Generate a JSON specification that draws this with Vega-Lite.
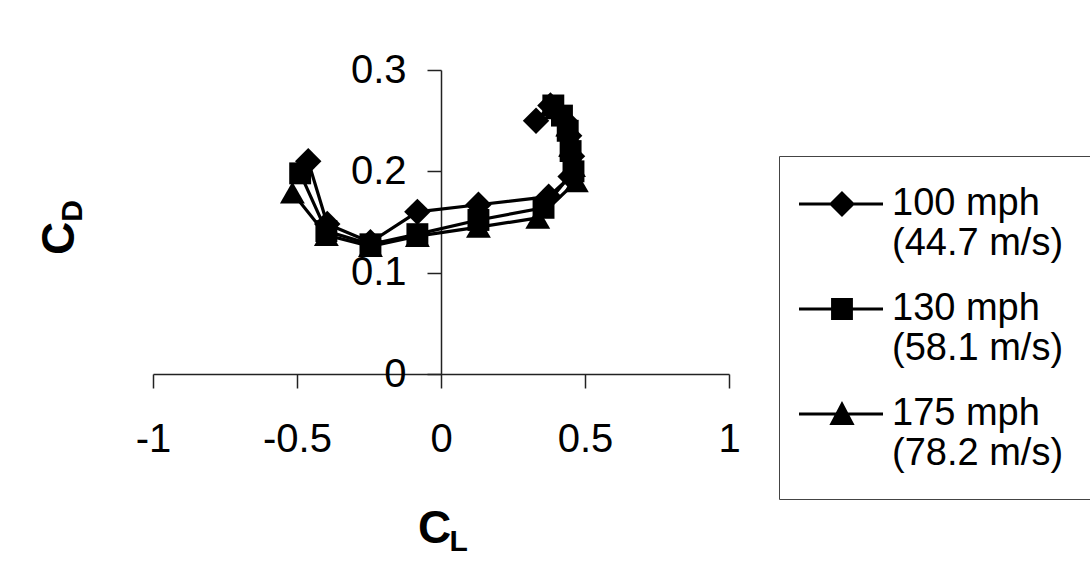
{
  "$schema": "https://vega.github.io/schema/vega-lite/v6.json",
  "width": 576,
  "height": 304,
  "autosize": {"type": "none"},
  "padding": {"left": 153, "top": 70, "right": 361, "bottom": 203},
  "background": "white",
  "config": {
    "view": {"stroke": null},
    "font": "Liberation Sans",
    "axis": {"grid": false}
  },
  "datasets": {
    "polar": [
      {"series": "100 mph (44.7 m/s)", "i": 1, "CL": -0.461, "CD": 0.210},
      {"series": "100 mph (44.7 m/s)", "i": 2, "CL": -0.395, "CD": 0.148},
      {"series": "100 mph (44.7 m/s)", "i": 3, "CL": -0.245, "CD": 0.130},
      {"series": "100 mph (44.7 m/s)", "i": 4, "CL": -0.082, "CD": 0.160},
      {"series": "100 mph (44.7 m/s)", "i": 5, "CL": 0.130, "CD": 0.167},
      {"series": "100 mph (44.7 m/s)", "i": 6, "CL": 0.374, "CD": 0.175},
      {"series": "100 mph (44.7 m/s)", "i": 7, "CL": 0.450, "CD": 0.195},
      {"series": "100 mph (44.7 m/s)", "i": 8, "CL": 0.455, "CD": 0.215},
      {"series": "100 mph (44.7 m/s)", "i": 9, "CL": 0.445, "CD": 0.235},
      {"series": "100 mph (44.7 m/s)", "i": 10, "CL": 0.430, "CD": 0.250},
      {"series": "100 mph (44.7 m/s)", "i": 11, "CL": 0.380, "CD": 0.265},
      {"series": "100 mph (44.7 m/s)", "i": 12, "CL": 0.330, "CD": 0.250},
      {"series": "130 mph (58.1 m/s)", "i": 1, "CL": -0.489, "CD": 0.198},
      {"series": "130 mph (58.1 m/s)", "i": 2, "CL": -0.398, "CD": 0.141},
      {"series": "130 mph (58.1 m/s)", "i": 3, "CL": -0.245, "CD": 0.128},
      {"series": "130 mph (58.1 m/s)", "i": 4, "CL": -0.082, "CD": 0.138},
      {"series": "130 mph (58.1 m/s)", "i": 5, "CL": 0.130, "CD": 0.152},
      {"series": "130 mph (58.1 m/s)", "i": 6, "CL": 0.356, "CD": 0.164},
      {"series": "130 mph (58.1 m/s)", "i": 7, "CL": 0.460, "CD": 0.200},
      {"series": "130 mph (58.1 m/s)", "i": 8, "CL": 0.450, "CD": 0.220},
      {"series": "130 mph (58.1 m/s)", "i": 9, "CL": 0.440, "CD": 0.240},
      {"series": "130 mph (58.1 m/s)", "i": 10, "CL": 0.420, "CD": 0.255},
      {"series": "130 mph (58.1 m/s)", "i": 11, "CL": 0.390, "CD": 0.265},
      {"series": "175 mph (78.2 m/s)", "i": 1, "CL": -0.516, "CD": 0.179},
      {"series": "175 mph (78.2 m/s)", "i": 2, "CL": -0.398, "CD": 0.137},
      {"series": "175 mph (78.2 m/s)", "i": 3, "CL": -0.245, "CD": 0.126},
      {"series": "175 mph (78.2 m/s)", "i": 4, "CL": -0.082, "CD": 0.136},
      {"series": "175 mph (78.2 m/s)", "i": 5, "CL": 0.130, "CD": 0.145},
      {"series": "175 mph (78.2 m/s)", "i": 6, "CL": 0.336, "CD": 0.154},
      {"series": "175 mph (78.2 m/s)", "i": 7, "CL": 0.470, "CD": 0.190},
      {"series": "175 mph (78.2 m/s)", "i": 8, "CL": 0.460, "CD": 0.205},
      {"series": "175 mph (78.2 m/s)", "i": 9, "CL": 0.450, "CD": 0.225},
      {"series": "175 mph (78.2 m/s)", "i": 10, "CL": 0.440, "CD": 0.245},
      {"series": "175 mph (78.2 m/s)", "i": 11, "CL": 0.400, "CD": 0.262}
    ],
    "subs": [{"sub": "L"}, {"sub": "D"}]
  },
  "layer": [
    {
      "data": {"name": "polar"},
      "mark": {"type": "line", "color": "black", "strokeWidth": 3.2},
      "encoding": {
        "x": {
          "field": "CL", "type": "quantitative",
          "scale": {"domain": [-1, 1], "nice": false, "zero": false},
          "axis": {
            "values": [-1, -0.5, 0, 0.5, 1],
            "labelExpr": "'' + datum.value",
            "labelFontSize": 40, "labelColor": "black", "labelPadding": 31, "labelFlush": false,
            "tickSize": 14, "tickColor": "#222", "tickWidth": 1.5,
            "domainColor": "#222", "domainWidth": 1.5,
            "title": "C", "titleFontSize": 46, "titleFontWeight": "bold", "titleColor": "black",
            "titleX": 281, "titleY": 154, "titleAlign": "center", "titleBaseline": "middle"
          }
        },
        "y": {
          "field": "CD", "type": "quantitative",
          "scale": {"domain": [0, 0.3], "nice": false, "zero": false},
          "axis": {
            "values": [0, 0.1, 0.2, 0.3],
            "labelExpr": "'' + datum.value",
            "offset": -288,
            "labelFontSize": 40, "labelColor": "black", "labelPadding": 21, "labelFlush": false,
            "tickSize": 14, "tickColor": "#222", "tickWidth": 1.5,
            "domainColor": "#222", "domainWidth": 1.5,
            "title": "C", "titleFontSize": 46, "titleFontWeight": "bold", "titleColor": "black",
            "titleAngle": -90, "titleX": -382, "titleY": 168, "titleAlign": "center", "titleBaseline": "middle"
          }
        },
        "detail": {"field": "series"},
        "order": {"field": "i", "type": "quantitative"}
      }
    },
    {
      "data": {"name": "polar"},
      "transform": [{"filter": "datum.series == '100 mph (44.7 m/s)'"}],
      "mark": {"type": "point", "filled": true, "color": "black", "opacity": 1, "shape": "diamond", "size": 700},
      "encoding": {
        "x": {"field": "CL", "type": "quantitative"},
        "y": {"field": "CD", "type": "quantitative"}
      }
    },
    {
      "data": {"name": "polar"},
      "transform": [{"filter": "datum.series == '130 mph (58.1 m/s)'"}],
      "mark": {"type": "point", "filled": true, "color": "black", "opacity": 1, "shape": "square", "size": 480},
      "encoding": {
        "x": {"field": "CL", "type": "quantitative"},
        "y": {"field": "CD", "type": "quantitative"}
      }
    },
    {
      "data": {"name": "polar"},
      "transform": [{"filter": "datum.series == '175 mph (78.2 m/s)'"}],
      "mark": {"type": "point", "filled": true, "color": "black", "opacity": 1, "shape": "triangle-up", "size": 620},
      "encoding": {
        "x": {"field": "CL", "type": "quantitative"},
        "y": {"field": "CD", "type": "quantitative"}
      }
    },
    {
      "data": {"name": "polar"},
      "mark": {"type": "point", "filled": true, "color": "black", "opacity": 0, "size": 1764},
      "encoding": {
        "x": {"field": "CL", "type": "quantitative"},
        "y": {"field": "CD", "type": "quantitative"},
        "shape": {
          "field": "series", "type": "nominal",
          "scale": {"range": [
            "M-1.333,-0.071H2.667V0.071H-1.333ZM0.714,-0.62L1.334,0L0.714,0.62L0.094,0Z",
            "M-1.333,-0.071H2.667V0.071H-1.333ZM0.194,-0.52H1.234V0.52H0.194Z",
            "M-1.333,-0.071H2.667V0.071H-1.333ZM0.714,-0.62L1.314,0.52H0.114Z"
          ]},
          "legend": {
            "title": null,
            "orient": "none", "legendX": 626, "legendY": 86,
            "labelExpr": "[slice(datum.label, 0, 7), slice(datum.label, 8)]",
            "labelFont": "Liberation Sans", "labelFontSize": 38, "labelColor": "black",
            "labelLimit": 400, "labelOffset": 43,
            "symbolSize": 1764, "symbolOpacity": 1,
            "symbolFillColor": "black",
            "strokeColor": "#444", "padding": 26, "rowPadding": 24, "fillColor": "white",
            "encode": {
              "symbols": {
                "update": {
                  "fill": {"value": "black"},
                  "fillOpacity": {"value": 1},
                  "opacity": {"value": 1}
                }
              }
            }
          }
        }
      }
    },
    {
      "data": {"name": "subs"},
      "transform": [{"filter": "datum.sub == 'L'"}],
      "mark": {"type": "text", "fontSize": 30, "fontWeight": "bold", "color": "black", "align": "center", "baseline": "middle"},
      "encoding": {
        "x": {"datum": 0.061, "type": "quantitative"},
        "y": {"datum": -0.166, "type": "quantitative"},
        "text": {"field": "sub"}
      }
    },
    {
      "data": {"name": "subs"},
      "transform": [{"filter": "datum.sub == 'D'"}],
      "mark": {"type": "text", "fontSize": 30, "fontWeight": "bold", "color": "black", "align": "center", "baseline": "middle", "angle": 270},
      "encoding": {
        "x": {"datum": -1.278, "type": "quantitative"},
        "y": {"datum": 0.161, "type": "quantitative"},
        "text": {"field": "sub"}
      }
    }
  ]
}
